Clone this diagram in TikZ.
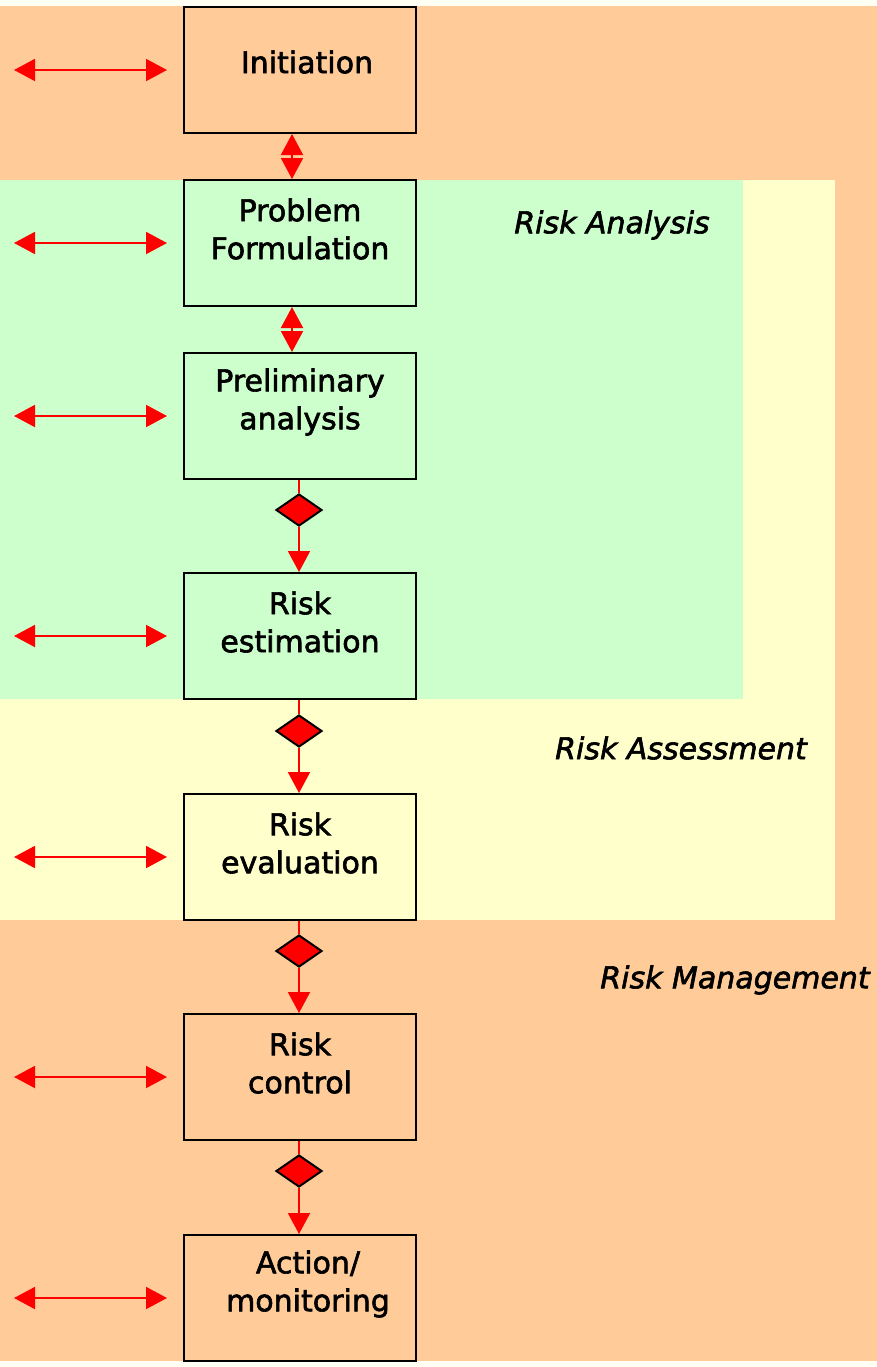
\documentclass[tikz,border=0pt]{standalone}
\usepackage{fontspec}
\setmainfont{DejaVu Sans}
\newfontfamily\stepfont[FakeBold=2]{DejaVu Sans}
\usetikzlibrary{shapes.geometric,arrows.meta}

\definecolor{mgmtorange}{HTML}{FFCC99}
\definecolor{assessyellow}{HTML}{FFFFCC}
\definecolor{analysisgreen}{HTML}{CCFFCC}
\definecolor{pagecream}{HTML}{FFFFF4}

\tikzset{
  stepbox/.style={draw=black,line width=1pt,minimum width=116pt,minimum height=63pt,inner sep=0pt},
  steptext/.style={align=center,font=\stepfont\fontsize{15}{19}\selectfont},
  zonelabel/.style={font=\stepfont\fontsize{15}{19}\selectfont\itshape},
  sidearrow/.style={red,line width=1pt,{Triangle[length=10.5pt,width=11pt]}-{Triangle[length=10.5pt,width=11pt]}},
  linkarrow/.style={red,line width=1pt,{Triangle[length=10.5pt,width=11pt]}-{Triangle[length=10.5pt,width=11pt]}},
  gate/.style={diamond,draw=black,fill=red,line width=1pt,minimum width=23pt,minimum height=16pt,inner sep=0pt},
  flowline/.style={red,line width=1pt},
  flowarrow/.style={red,line width=1pt,-{Triangle[length=10.5pt,width=11pt]}}
}

\begin{document}
\begin{tikzpicture}[x=0.5pt,y=-0.5pt]
  \useasboundingbox (0,0) rectangle (877,1367);
  % zones
  \fill[pagecream] (0,0) rectangle (877,1367);
  \fill[mgmtorange] (0,6) rectangle (877,1361);
  \fill[assessyellow] (0,180) rectangle (835,920);
  \fill[analysisgreen] (0,180) rectangle (743,699);

  \node[zonelabel] (analysis) at (612,225) {Risk Analysis};
  \node[zonelabel] (assessment) at (681,748) {Risk Assessment};
  \node[zonelabel] (management) at (735,980) {Risk Management};

  % steps
  \node[stepbox] (init) at (300,70) {};
  \node[stepbox] (formul) at (300,243) {};
  \node[stepbox] (prelim) at (300,416) {};
  \node[stepbox] (estim) at (300,636) {};
  \node[stepbox] (evalu) at (300,857) {};
  \node[stepbox] (control) at (300,1077) {};
  \node[stepbox] (action) at (300,1298) {};

  \node[steptext] (init-t) at ([xshift=3.5pt,yshift=4pt]init.center) {Initiation};
  \node[steptext] (formul-t) at ([yshift=7pt]formul.center) {Problem\\Formulation};
  \node[steptext] (prelim-t) at ([yshift=7pt]prelim.center) {Preliminary\\analysis};
  \node[steptext] (estim-t) at ([yshift=7pt]estim.center) {Risk\\estimation};
  \node[steptext] (evalu-t) at ([yshift=7pt]evalu.center) {Risk\\evaluation};
  \node[steptext] (control-t) at ([yshift=7pt]control.center) {Risk\\control};
  \node[steptext] (action-t) at ([xshift=4pt,yshift=7pt]action.center) {Action/\\monitoring};

  % side links
  \foreach \s in {init,formul,prelim,estim,evalu,control,action}{
    \coordinate (\s-l) at (\s.west -| 14,0);
    \draw[sidearrow] (\s-l) -- ([xshift=-8pt]\s.west);
  }

  % two-way links
  \draw[linkarrow] ([xshift=-4pt]init.south) -- ([xshift=-4pt]formul.north);
  \draw[linkarrow] ([xshift=-4pt]formul.south) -- ([xshift=-4pt]prelim.north);

  % decision gates
  \node[gate] (g1) at (299,510) {};
  \node[gate] (g2) at (299,731) {};
  \node[gate] (g3) at (299,951) {};
  \node[gate] (g4) at (299,1171) {};

  \draw[flowline] (prelim.south -| g1) -- (g1.north);
  \draw[flowarrow] (g1.south) -- (estim.north -| g1);
  \draw[flowline] (estim.south -| g2) -- (g2.north);
  \draw[flowarrow] (g2.south) -- (evalu.north -| g2);
  \draw[flowline] (evalu.south -| g3) -- (g3.north);
  \draw[flowarrow] (g3.south) -- (control.north -| g3);
  \draw[flowline] (control.south -| g4) -- (g4.north);
  \draw[flowarrow] (g4.south) -- (action.north -| g4);
\end{tikzpicture}
\end{document}
